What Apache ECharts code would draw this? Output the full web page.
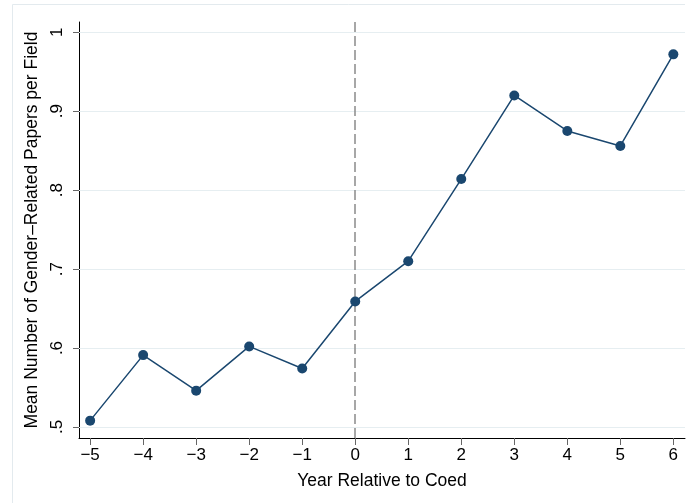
<!DOCTYPE html>
<html>
<head>
<meta charset="utf-8">
<title>Gender-Related Papers per Field</title>
<script src="https://cdn.jsdelivr.net/npm/echarts@6/dist/echarts.min.js"></script>
<style>
  html, body { margin: 0; padding: 0; background: #fff; }
  #chart { width: 690px; height: 503px; }
</style>
</head>
<body>
<div id="chart"></div>
<script>
// Event-time axis: years relative to coeducation
const years = [-5, -4, -3, -2, -1, 0, 1, 2, 3, 4, 5, 6];
// Mean number of gender-related papers per field in each year
const meanPapers = [0.508, 0.591, 0.546, 0.602, 0.574, 0.659, 0.710, 0.814, 0.920, 0.875, 0.856, 0.972];
// Tick positions on each axis
const xTicks = [-5, -4, -3, -2, -1, 0, 1, 2, 3, 4, 5, 6];
const yTicks = [0.5, 0.6, 0.7, 0.8, 0.9, 1];
const yTickLabels = ['.5', '.6', '.7', '.8', '.9', '1'];
// Year of coeducation, marked with a dashed reference line
const eventYear = 0;

const FONT = '"Liberation Sans", Arial, Helvetica, sans-serif';
const NAVY = '#1a476f';
const GRID = '#e6eef1';

const chart = echarts.init(document.getElementById('chart'), null, { renderer: 'canvas' });

const points = years.map((yr, i) => [yr, meanPapers[i]]);

chart.setOption({
  animation: false,
  backgroundColor: '#ffffff',
  graphic: [
    // light outer frame of the graph region
    { type: 'line', shape: { x1: 12.5, y1: 4.5, x2: 685, y2: 4.5 }, style: { stroke: '#e3eaee', lineWidth: 1 }, silent: true },
    { type: 'line', shape: { x1: 12.5, y1: 4.5, x2: 12.5, y2: 503 }, style: { stroke: '#e3eaee', lineWidth: 1 }, silent: true }
  ],
  grid: { left: 79, right: 5, top: 22, bottom: 65, containLabel: false },
  xAxis: {
    type: 'value',
    min: -5.21,
    max: 6.22,
    name: 'Year Relative to Coed',
    nameLocation: 'middle',
    nameGap: 34,
    nameTextStyle: { fontFamily: FONT, fontSize: 17.5, color: '#000' },
    axisLine: { show: true, onZero: false, lineStyle: { color: '#000', width: 1 } },
    axisTick: { show: true, length: 7, customValues: xTicks, lineStyle: { color: '#666', width: 1 } },
    axisLabel: {
      customValues: xTicks,
      margin: 9,
      fontFamily: FONT, fontSize: 17, color: '#000',
      formatter: v => (v < 0 ? '\u2212' + Math.abs(v) : String(v))
    },
    splitLine: { show: false }
  },
  yAxis: {
    type: 'value',
    min: 0.486,
    max: 1.013,
    name: 'Mean Number of Gender\u2013Related Papers per Field',
    nameLocation: 'middle',
    nameGap: 27,
    nameRotate: 90,
    nameTextStyle: { fontFamily: FONT, fontSize: 17.5, color: '#000' },
    axisLine: { show: true, onZero: false, lineStyle: { color: '#000', width: 1 } },
    axisTick: { show: true, length: 6, customValues: yTicks, lineStyle: { color: '#666', width: 1 } },
    axisLabel: {
      customValues: yTicks,
      rotate: 90,
      margin: 13,
      fontFamily: FONT, fontSize: 17, color: '#000',
      formatter: v => {
        const i = yTicks.findIndex(t => Math.abs(t - v) < 1e-9);
        return i >= 0 ? yTickLabels[i] : '';
      }
    },
    splitLine: { show: false }
  },
  series: [
    {
      // reference lines: horizontal gridlines and the dashed event-year line
      type: 'line',
      data: points,
      z: 1,
      silent: true,
      showSymbol: false,
      lineStyle: { opacity: 0 },
      markLine: {
        z: 1,
        silent: true,
        symbol: 'none',
        animation: false,
        label: { show: false },
        data: yTicks.map(t => ({ yAxis: t, lineStyle: { color: GRID, width: 1.2, type: 'solid' } }))
          .concat([{ xAxis: eventYear, lineStyle: { color: '#8a8a8a', width: 1.5, type: [10, 4] } }])
      }
    },
    {
      type: 'line',
      data: points,
      z: 3,
      symbol: 'circle',
      symbolSize: 10,
      showSymbol: true,
      lineStyle: { color: NAVY, width: 1.5 },
      itemStyle: { color: NAVY, borderWidth: 0 }
    }
  ]
});
</script>
</body>
</html>
